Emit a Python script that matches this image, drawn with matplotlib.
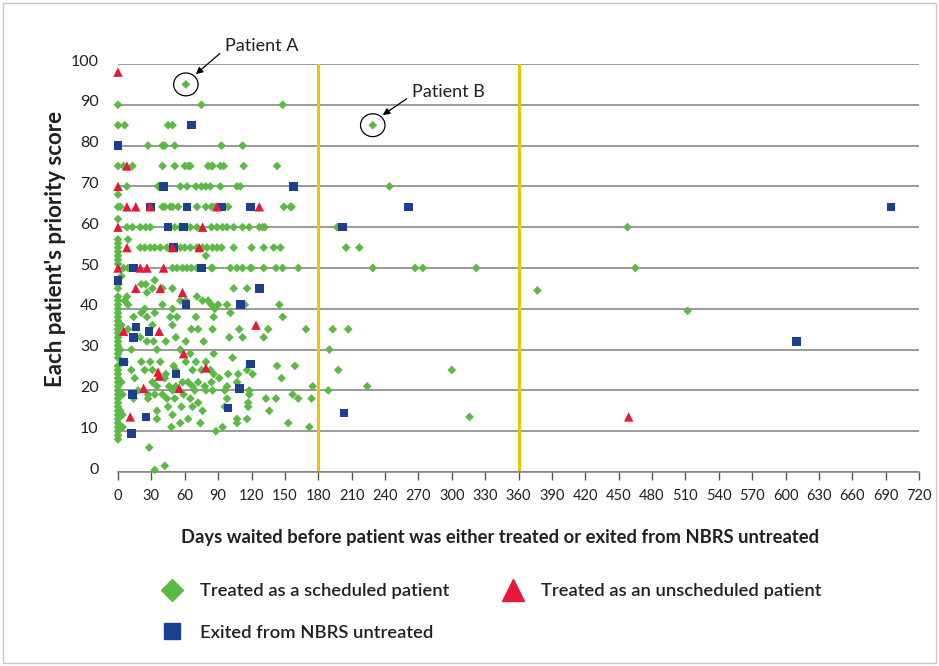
import matplotlib.pyplot as plt
import matplotlib.transforms as mtransforms
from matplotlib.patches import Ellipse, Rectangle
from matplotlib.lines import Line2D

plt.rcParams['font.family'] = ['Lato', 'DejaVu Sans']

# ---- data (days waited, priority score) ----
# scheduled patients treated on day 0 (scores only)
sched_day0_scores = [90, 85, 75, 68, 65, 62, 57, 56, 55, 54, 53, 52, 51, 46, 45, 43, 42, 41, 40,
                     39, 38, 37, 36, 35, 34, 33, 32, 31, 30, 29, 28, 26, 25, 24, 23, 22, 21, 20,
                     19, 18, 17, 16, 15, 14, 13, 12, 11, 10, 9, 8]

# scheduled, score 50 and up, within 180 days
sched_upper = [
    (61, 95), (75, 90), (148, 90), (6, 85), (45, 85), (49, 85),
    (27, 80), (40, 80), (42, 80), (51, 80), (93, 80), (112, 80),
    (5, 75), (13, 75), (40, 75), (51, 75), (60, 75), (63, 75), (65, 75), (81, 75), (84, 75),
    (85, 75), (92, 75), (95, 75), (113, 75), (143, 75),
    (8, 70), (36, 70), (56, 70), (62, 70), (70, 70), (75, 70), (79, 70), (83, 70), (92, 70),
    (107, 70), (110, 70),
    (2, 65), (40, 65), (42, 65), (47, 65), (49, 65), (54, 65), (71, 65), (79, 65), (84, 65),
    (87, 65), (99, 65), (149, 65), (155, 65), (156, 65),
    (8, 60), (13, 60), (20, 60), (25, 60), (29, 60), (51, 60), (56, 60), (65, 60), (71, 60),
    (84, 60), (89, 60), (94, 60), (98, 60), (104, 60), (112, 60), (118, 60), (127, 60),
    (130, 60), (132, 60), (9, 57),
    (20, 55), (24, 55), (29, 55), (33, 55), (38, 55), (44, 55), (56, 55), (60, 55), (65, 55),
    (71, 55), (76, 55), (80, 55), (85, 55), (89, 55), (93, 55), (104, 55), (120, 55),
    (131, 55), (140, 55), (146, 55), (79, 53),
    (5, 50), (9, 50), (49, 50), (53, 50), (58, 50), (62, 50), (66, 50), (71, 50), (84, 50),
    (85, 50), (101, 50), (107, 50), (112, 50), (119, 50), (120, 50), (131, 50), (142, 50),
    (148, 50), (162, 50),
]

# scheduled, score below 50, within 180 days
sched_lower = [
    (3, 48), (33, 47), (25, 46), (21, 46), (31, 45), (40, 45), (49, 45), (8, 43), (26, 44),
    (71, 43), (61, 42), (56, 42), (76, 42), (81, 42), (84, 41), (104, 45), (116, 45), (145, 41),
    (6, 42), (9, 41), (24, 40), (40, 41), (49, 40), (87, 40), (90, 41), (98, 41), (114, 41),
    (14, 38), (21, 39), (26, 38), (33, 39), (47, 38), (53, 38), (70, 38), (86, 38), (101, 39),
    (148, 38),
    (9, 35), (31, 36), (49, 36), (66, 35), (72, 35), (85, 35), (109, 35), (135, 35), (169, 35),
    (20, 33), (26, 32), (32, 32), (43, 32), (52, 33), (61, 32), (77, 32), (100, 33), (112, 33),
    (131, 33), (3, 36), (12, 30), (35, 30), (56, 30), (65, 29), (86, 29), (2, 30),
    (6, 27), (21, 27), (29, 27), (38, 27), (50, 26), (61, 27), (70, 27), (79, 27), (103, 28),
    (143, 26), (159, 26),
    (12, 25), (24, 25), (31, 25), (43, 24), (52, 25), (67, 25), (75, 25), (83, 25), (86, 24),
    (99, 24), (108, 24), (116, 25), (121, 24), (147, 23),
    (15, 23), (31, 22), (35, 21), (42, 23), (46, 21), (52, 21), (58, 22), (63, 22), (67, 21),
    (72, 22), (78, 21), (84, 22), (91, 23), (98, 21), (107, 22), (118, 20), (175, 21), (3, 22),
    (4, 19), (18, 20), (27, 19), (33, 19), (40, 19), (49, 20), (59, 19), (69, 20), (79, 20),
    (85, 20), (96, 20), (118, 19), (157, 19),
    (14, 18), (27, 18), (44, 18), (51, 18), (65, 18), (72, 17), (98, 18), (117, 17), (133, 18),
    (142, 18), (162, 18), (174, 18),
    (2, 15), (35, 15), (45, 16), (57, 16), (67, 16), (76, 15), (96, 16), (117, 16), (136, 15),
    (4, 14), (35, 13), (49, 14), (63, 13), (107, 13), (116, 13),
    (4, 11), (56, 12), (74, 12), (107, 12), (153, 12),
    (48, 11), (88, 10), (94, 11), (172, 11),
    (28, 6), (33, 0.5), (42, 1.5),
]

# scheduled, waited more than 180 days
sched_far = [
    (229, 85), (244, 70), (197, 60), (458, 60), (205, 55), (217, 55), (229, 50), (267, 50),
    (274, 50), (322, 50), (465, 50), (377, 44.5), (512, 39.5), (193, 35), (207, 35), (190, 30),
    (198, 25), (300, 25), (189, 20), (224, 21), (316, 13.5),
]

unsched = [
    (0, 98), (8, 75), (0, 70), (8, 65), (16, 65), (29, 65), (89, 65), (127, 65), (0, 60),
    (76, 60), (8, 55), (49, 55), (73, 55), (0, 50), (20, 50), (26, 50), (41, 50), (16, 45),
    (38, 45), (58, 44), (5, 34.5), (37, 34.5), (124, 36), (59, 29), (36, 24.5), (37, 23.5),
    (79, 25.5), (23, 20.5), (55, 20.5), (11, 13.5), (459, 13.5),
]

exited = [
    (0, 80), (66, 85), (41, 70), (158, 70), (29, 65), (62, 65), (93, 65), (119, 65), (261, 65),
    (695, 65), (45, 60), (59, 60), (202, 60), (50, 55), (14, 50), (75, 50), (0, 47), (127, 45),
    (61, 41), (110, 41), (16, 35.5), (28, 34.5), (14, 33), (5, 27), (119, 26.5), (52, 24),
    (109, 20.5), (13, 19), (99, 15.7), (25, 13.5), (203, 14.5), (12, 9.5), (610, 32),
]

x_ticks = list(range(0, 721, 30))
y_ticks = list(range(0, 101, 10))
cutoffs = [180, 360]

green = '#5cb946'
red = '#e8173a'
blue = '#1c3f94'
yellow = '#f3c300'
txt = '#231f20'

sched = [(0, s) for s in sched_day0_scores] + sched_upper + sched_lower + sched_far
sx, sy = zip(*sched)
ux, uy = zip(*unsched)
ex, ey = zip(*exited)

fig = plt.figure(figsize=(9.39, 6.66), dpi=100)
ax = fig.add_axes([118 / 939, 1 - 472 / 666, 801 / 939, 408 / 666])

ax.set_xlim(0, 720)
ax.set_ylim(0, 100)
ax.set_xticks(x_ticks)
ax.set_yticks(y_ticks)
ax.yaxis.grid(True, color='#7f7f7f', lw=1.1)
ax.set_axisbelow(True)
for s in ['top', 'right', 'left']:
    ax.spines[s].set_visible(False)
ax.spines['bottom'].set_color('#7f7f7f')
ax.spines['bottom'].set_linewidth(1.1)

for c in cutoffs:
    ax.axvline(c, color=yellow, lw=2.2, zorder=1.5)

ax.scatter(sx, sy, marker='D', s=20, color=green, edgecolors='none', clip_on=False, zorder=3)
ax.scatter(ex, ey, marker='s', s=38, color=blue, edgecolors='none', clip_on=False, zorder=4)
ax.scatter(ux, uy, marker='^', s=46, color=red, edgecolors='none', clip_on=False, zorder=5)

ax.tick_params(axis='y', length=0, pad=14, labelsize=11.5, labelcolor=txt)
ax.tick_params(axis='x', length=6, width=1, color='#555555', pad=6, labelsize=10.5, labelcolor=txt)
offset = mtransforms.ScaledTranslation(0, 0.04, fig.dpi_scale_trans)
for lab in ax.get_yticklabels():
    lab.set_transform(lab.get_transform() + offset)

ax.set_xlabel('Days waited before patient was either treated or exited from NBRS untreated',
              fontsize=13.2, fontweight='bold', color=txt)
ax.xaxis.set_label_coords(0.477, -0.14)
ax.set_ylabel("Each patient's priority score", fontsize=16, fontweight='bold', color=txt)
ax.yaxis.set_label_coords(-0.065, 0.547)

# patient call-outs
ax.add_patch(Ellipse((61, 95), 22, 5.6, fill=False, ec='black', lw=0.9, clip_on=False))
ax.add_patch(Ellipse((229, 85), 22, 5.6, fill=False, ec='black', lw=0.9, clip_on=False))
arrow = dict(arrowstyle='-|>', color='black', lw=0.9, shrinkA=2, shrinkB=0,
             mutation_scale=10, relpos=(0, 0.3))
ax.annotate('Patient A', xy=(70, 97.5), xytext=(96, 104.4), fontsize=13, color=txt,
            va='center', ha='left', annotation_clip=False, arrowprops=arrow)
ax.annotate('Patient B', xy=(238, 87.5), xytext=(264, 93.1), fontsize=13, color=txt,
            va='center', ha='left', annotation_clip=False, arrowprops=arrow)

handles = [
    Line2D([], [], ls='none', marker='D', ms=11.5, color=green),
    Line2D([], [], ls='none', marker='s', ms=11, color=blue),
    Line2D([], [], ls='none', marker='^', ms=16, color=red),
]
labels = ['Treated as a scheduled patient', 'Exited from NBRS untreated',
          'Treated as an unscheduled patient']
fig.legend(handles, labels, ncol=2, loc='upper left', bbox_to_anchor=(162 / 939, 1 - 583 / 666),
           frameon=False, handlelength=1.1, handletextpad=0.95,
           columnspacing=2.95, labelspacing=1.4, borderpad=0, borderaxespad=0,
           prop={'size': 13.2, 'weight': 'semibold'}, labelcolor=txt)

fig.add_artist(Rectangle((0.003, 0.005), 0.994, 0.99, transform=fig.transFigure,
                         fill=False, ec='#c8c8c8', lw=1))

fig.savefig('out.png', dpi=100)
